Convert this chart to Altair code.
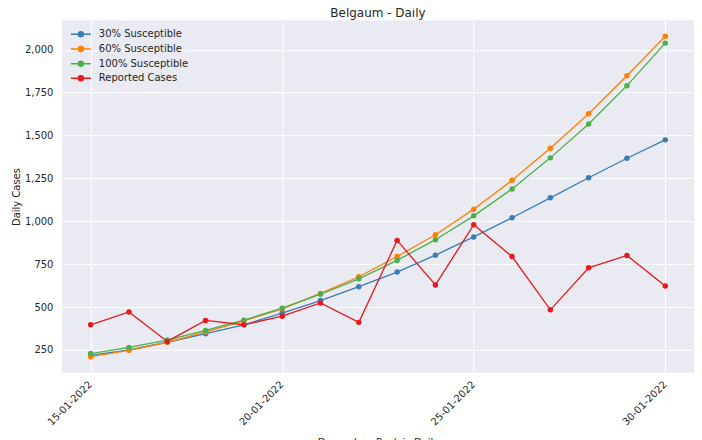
import altair as alt
import pandas as pd

dates = [f"2022-01-{d:02d}T00:00:00" for d in range(15, 31)]
series_names = ["30% Susceptible", "60% Susceptible", "100% Susceptible", "Reported Cases"]
s30 = [218, 250, 295, 345, 397, 465, 538, 619, 704, 803, 909, 1021, 1137, 1254, 1368, 1475]
s60 = [211, 248, 295, 355, 420, 490, 580, 677, 795, 922, 1071, 1239, 1426, 1627, 1849, 2079]
s100 = [229, 265, 308, 364, 424, 494, 575, 665, 772, 893, 1032, 1189, 1370, 1567, 1791, 2039]
reported = [397, 472, 300, 422, 397, 447, 524, 411, 889, 629, 980, 795, 484, 729, 801, 623]
colors = ["#377eb8", "#ff7f00", "#4daf4a", "#e41a1c"]
x_ticks = ["2022-01-15T00:00:00", "2022-01-20T00:00:00", "2022-01-25T00:00:00", "2022-01-30T00:00:00"]
y_ticks = [250, 500, 750, 1000, 1250, 1500, 1750, 2000]

rows = []
for k, (name, vals) in enumerate(zip(series_names, [s30, s60, s100, reported])):
    for d, v in zip(dates, vals):
        rows.append({"date": d, "value": v, "series": name, "series_idx": k})
df = pd.DataFrame(rows)

color = alt.Color(
    "series:N",
    scale=alt.Scale(domain=series_names, range=colors),
    legend=alt.Legend(
        title=None,
        orient="none",
        legendX=13,
        legendY=8,
        padding=0,
        symbolType="M-2,0L2,0M0.5,0A0.5,0.5,0,1,1,-0.5,0A0.5,0.5,0,1,1,0.5,0Z",
        symbolSize=100,
        symbolStrokeWidth=1.5,
        labelOffset=12,
        labelFontSize=10,
        labelColor="#262626",
        labelFont="DejaVu Sans",
        rowPadding=2.7,
    ),
)

x = alt.X(
    "date:T",
    scale=alt.Scale(domain=[alt.DateTime(year=2022, month=1, date=14, hours=6),
                            alt.DateTime(year=2022, month=1, date=30, hours=18)]),
    axis=alt.Axis(
        values=x_ticks,
        format="%d-%m-%Y",
        labelAngle=-45,
        labelAlign="right",
        labelBaseline="top",
        labelPadding=6,
        labelOffset=-4,
        title="Days when Peak is Daily",
        titlePadding=11,
    ),
)
y = alt.Y(
    "value:Q",
    scale=alt.Scale(domain=[117, 2172], nice=False, zero=False),
    axis=alt.Axis(values=y_ticks, format=",d", title="Daily Cases", titlePadding=3, labelPadding=9),
)

base = alt.Chart(df).encode(x=x, y=y, color=color, order=alt.Order("series_idx:Q"))
lines = base.mark_line(strokeWidth=1.3)
points = base.mark_point(filled=True, size=30, opacity=1)

chart = (
    alt.layer(lines, points)
    .properties(
        width=633,
        height=353,
        title=alt.Title("Belgaum - Daily", fontSize=12, fontWeight="normal", color="#262626",
                        font="DejaVu Sans", offset=0),
        padding={"left": 54, "top": 12, "right": 0, "bottom": 80},
        autosize="none",
        background="white",
    )
    .configure_view(fill="#EAEAF2", strokeWidth=0)
    .configure_axis(
        grid=True,
        gridColor="white",
        gridWidth=1,
        domain=False,
        ticks=False,
        labelFont="DejaVu Sans",
        labelFontSize=10,
        labelColor="#262626",
        titleFont="DejaVu Sans",
        titleFontSize=10,
        titleFontWeight="normal",
        titleColor="#262626",
    )
)

chart.save("out.html", embed_options={"renderer": "svg", "actions": False})
